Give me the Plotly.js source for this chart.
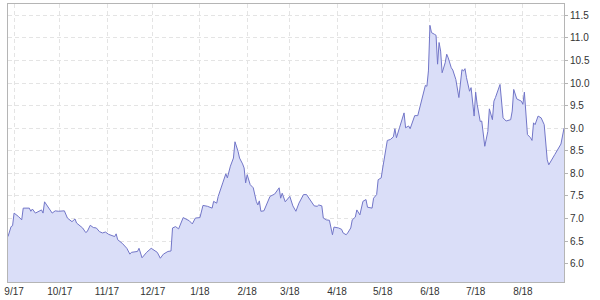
<!DOCTYPE html>
<html>
<head>
<meta charset="utf-8">
<script src="https://cdn.plot.ly/plotly-3.0.1.min.js"></script>
<style>html,body{margin:0;padding:0;background:#fff;}#chart{width:600px;height:300px;}</style>
</head>
<body>
<div id="chart"></div>
<script>
const dates = [
"2017-08-28","2017-08-30","2017-08-31","2017-09-01","2017-09-04","2017-09-06","2017-09-07","2017-09-11","2017-09-12","2017-09-13",
"2017-09-15","2017-09-19","2017-09-20","2017-09-21","2017-09-22","2017-09-26","2017-09-28","2017-09-30","2017-10-04","2017-10-06",
"2017-10-09","2017-10-11","2017-10-12","2017-10-16","2017-10-18","2017-10-19","2017-10-21","2017-10-23","2017-10-25","2017-10-27",
"2017-10-29","2017-10-31","2017-11-02","2017-11-06","2017-11-07","2017-11-08","2017-11-11","2017-11-14","2017-11-16","2017-11-17",
"2017-11-21","2017-11-22","2017-11-24","2017-11-27","2017-11-30","2017-12-02","2017-12-04","2017-12-06","2017-12-07","2017-12-08",
"2017-12-11","2017-12-13","2017-12-14","2017-12-16","2017-12-18","2017-12-21","2017-12-25","2017-12-27","2017-12-29","2018-01-01",
"2018-01-03","2018-01-06","2018-01-09","2018-01-10","2018-01-12","2018-01-13","2018-01-16","2018-01-18","2018-01-19","2018-01-21",
"2018-01-23","2018-01-24","2018-01-26","2018-01-27","2018-01-29","2018-01-30","2018-01-31","2018-02-01","2018-02-03","2018-02-05",
"2018-02-07","2018-02-08","2018-02-09","2018-02-10","2018-02-12","2018-02-16","2018-02-19","2018-02-22","2018-02-23","2018-02-24",
"2018-02-26","2018-03-01","2018-03-03","2018-03-05","2018-03-07","2018-03-10","2018-03-12","2018-03-15","2018-03-17","2018-03-19",
"2018-03-20","2018-03-22","2018-03-23","2018-03-25","2018-03-27","2018-03-29","2018-03-30","2018-04-02","2018-04-04","2018-04-05",
"2018-04-07","2018-04-08","2018-04-10","2018-04-11","2018-04-13","2018-04-14","2018-04-16","2018-04-18","2018-04-20","2018-04-21",
"2018-04-24","2018-04-25","2018-04-27","2018-04-28","2018-04-30","2018-05-01","2018-05-02","2018-05-04","2018-05-06","2018-05-08",
"2018-05-09","2018-05-10","2018-05-12","2018-05-15","2018-05-16","2018-05-18","2018-05-19","2018-05-22","2018-05-24","2018-05-26",
"2018-05-27","2018-05-29","2018-05-30","2018-05-31","2018-06-01","2018-06-02","2018-06-04","2018-06-05","2018-06-06","2018-06-07",
"2018-06-08","2018-06-09","2018-06-11","2018-06-12","2018-06-13","2018-06-15","2018-06-16","2018-06-18","2018-06-20","2018-06-22",
"2018-06-23","2018-06-24","2018-06-25","2018-06-27","2018-06-28","2018-06-30","2018-07-01","2018-07-02","2018-07-04","2018-07-05",
"2018-07-07","2018-07-09","2018-07-10","2018-07-12","2018-07-13","2018-07-14","2018-07-17","2018-07-19","2018-07-21","2018-07-24",
"2018-07-25","2018-07-26","2018-07-28","2018-07-31","2018-08-01","2018-08-02","2018-08-04","2018-08-06","2018-08-07","2018-08-08",
"2018-08-09","2018-08-11","2018-08-13","2018-08-15","2018-08-17","2018-08-18","2018-08-22","2018-08-24","2018-08-26","2018-08-28"
];
const prices = [
6.60,6.82,6.84,7.12,7.04,6.97,7.23,7.23,7.16,7.21,
7.12,7.19,7.12,7.37,7.32,7.12,7.17,7.16,7.17,7.01,
6.93,6.99,6.90,6.79,6.69,6.71,6.85,6.80,6.79,6.71,
6.68,6.70,6.65,6.60,6.66,6.53,6.45,6.34,6.21,6.25,
6.27,6.34,6.13,6.25,6.34,6.30,6.25,6.12,6.16,6.21,
6.27,6.28,6.79,6.82,6.77,7.02,6.95,6.88,7.01,7.02,
7.29,7.27,7.23,7.38,7.34,7.49,7.79,7.99,7.90,8.16,
8.34,8.70,8.49,8.34,8.21,8.12,7.79,7.97,7.75,7.68,
7.38,7.30,7.39,7.16,7.17,7.49,7.54,7.68,7.45,7.56,
7.37,7.49,7.28,7.16,7.34,7.53,7.53,7.38,7.28,7.27,
7.30,7.28,7.01,6.97,6.96,6.64,6.81,6.79,6.76,6.68,
6.64,6.68,6.79,6.97,7.03,7.19,7.08,7.38,7.42,7.25,
7.23,7.45,7.53,7.86,7.90,8.12,8.30,8.73,8.75,8.81,
8.99,8.79,9.01,9.34,9.01,9.05,8.99,9.28,9.28,9.53,
9.65,9.95,9.93,10.27,11.28,11.12,11.08,11.06,10.42,10.90,
10.71,10.23,10.45,10.64,10.56,10.34,10.29,10.08,9.68,10.30,
10.27,10.32,10.12,9.82,9.90,9.27,9.80,9.53,9.15,9.16,
8.60,8.93,9.43,9.19,9.60,9.68,9.97,9.23,9.16,9.19,
9.38,9.86,9.65,9.60,9.53,9.80,8.86,8.79,8.73,9.12,
9.08,9.27,9.23,9.08,8.30,8.19,8.42,8.54,8.65,9.00
];
const xRange = ["2017-08-28","2018-08-28"];
const yRange = [5.593, 11.753];

const trace = {
  x: dates, y: prices, type: "scatter", mode: "lines",
  line: {color: "#7276c8", width: 1},
  fill: "tozeroy", fillcolor: "#dadef8",
  hoverinfo: "skip"
};
const axisFont = {family: "Liberation Sans, Arial, sans-serif", size: 10, color: "#333"};
const layout = {
  width: 600, height: 300,
  margin: {l: 8, r: 36, t: 4, b: 18, pad: 0},
  paper_bgcolor: "#fff", plot_bgcolor: "#fff",
  showlegend: false,
  xaxis: {
    type: "date", range: xRange, tick0: "2017-09-01", dtick: "M1", tickformat: "%-m/%y",
    showgrid: true, gridcolor: "#e4e4e4", griddash: "4px,3px", gridwidth: 1,
    showline: true, linecolor: "#b5b5b5", linewidth: 1, mirror: true,
    ticks: "", tickfont: axisFont, zeroline: false, fixedrange: true
  },
  yaxis: {
    side: "right", range: yRange, dtick: 0.5, tick0: 6, tickformat: ".1f",
    showgrid: true, gridcolor: "#e4e4e4", griddash: "4px,3px", gridwidth: 1,
    showline: true, linecolor: "#b5b5b5", linewidth: 1, mirror: true,
    ticks: "outside", ticklen: 3, tickcolor: "#b5b5b5",
    tickfont: axisFont, zeroline: false, fixedrange: true
  }
};
Plotly.newPlot("chart", [trace], layout, {staticPlot: true, displayModeBar: false});
</script>
</body>
</html>
